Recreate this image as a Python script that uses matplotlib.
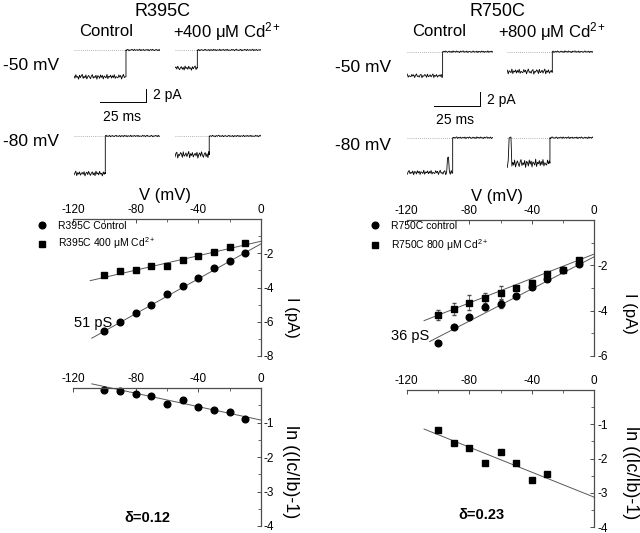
"""
Single-channel traces and I-V / block plots for R395C and R750C
"""
import numpy as np
import matplotlib
matplotlib.use("Agg")
import matplotlib.pyplot as plt

plt.rcParams['font.family'] = ['Liberation Sans', 'DejaVu Sans']
plt.rcParams['axes.unicode_minus'] = False
plt.rcParams['mathtext.fontset'] = 'custom'
plt.rcParams['mathtext.rm'] = 'Liberation Sans'
plt.rcParams['mathtext.it'] = 'Liberation Sans:italic'
plt.rcParams['mathtext.bf'] = 'Liberation Sans:bold'

W, H = 640, 533

# ---------- data ----------
voltages = [-100, -90, -80, -70, -60, -50, -40, -30, -20, -10]

# R395C I-V (pA)
r395_ctrl = [-6.53, -5.99, -5.48, -5.01, -4.37, -3.93, -3.42, -2.88, -2.45, -1.98]
r395_cd = [-3.27, -3.03, -2.99, -2.76, -2.72, -2.37, -2.18, -1.91, -1.63, -1.42]
r395_ctrl_fit_v = [-108, 0]
r395_ctrl_fit_i = [-6.96, -1.45]
r395_cd_fit_v = [-109, 0]
r395_cd_fit_i = [-3.60, -1.30]

# R750C I-V (pA)
r750_ctrl = [-5.41, -4.74, -4.29, -3.85, -3.70, -3.35, -2.96, -2.61, -2.22, -1.93]
r750_ctrl_err = [0.0, 0.0, 0.0, 0.0, 0.2, 0.0, 0.08, 0.0, 0.0, 0.05]
r750_cd = [-4.19, -3.93, -3.66, -3.45, -3.23, -3.01, -2.76, -2.39, -2.22, -1.78]
r750_cd_err = [0.24, 0.26, 0.33, 0.22, 0.30, 0.08, 0.12, 0.12, 0.06, 0.10]
r750_ctrl_fit_v = [-105.3, 0]
r750_ctrl_fit_i = [-5.36, -1.62]
r750_cd_fit_v = [-108.9, 0]
r750_cd_fit_i = [-4.44, -1.50]

# ln((Ic/Ib)-1)
r395_ln = [-0.07, -0.10, -0.18, -0.22, -0.47, -0.36, -0.55, -0.63, -0.70, -0.90]
r395_ln_fit_v = [-108, 0]
r395_ln_fit_y = [0.12, -0.93]
r750_ln_v = [-100, -90, -80, -70, -60, -50, -40, -30]
r750_ln = [-1.17, -1.54, -1.70, -2.14, -1.80, -2.13, -2.64, -2.46]
r750_ln_fit_v = [-108.9, 0]
r750_ln_fit_y = [-1.14, -3.13]

# single-channel traces: open level (pA) and closing time (ms)
trace_names = ['R395C -50 ctrl', 'R395C -50 Cd', 'R395C -80 ctrl', 'R395C -80 Cd',
               'R750C -50 ctrl', 'R750C -50 Cd', 'R750C -80 ctrl', 'R750C -80 Cd']
trace_open_pA = [-4.0, -2.7, -5.6, -2.8, -3.4, -2.8, -4.9, -3.6]
trace_close_ms = [28.4, 12.2, 17.1, 18.7, 19.3, 24.6, 24.8, 23.3]
trace_noise_open = [0.4, 0.35, 0.4, 0.55, 0.3, 0.4, 0.35, 0.65]
# hand-drawn noise pattern, one value per 0.5 ms sample
noise = [0.3, -0.5, 0.8, -0.2, 0.1, -0.9, 0.6, -0.3, 0.4, 0.9, -0.6, 0.2, -0.4,
         0.7, -0.8, 0.0, 0.5, -0.1, -0.7, 0.3, 0.8, -0.5, 0.1, -0.3, 0.6, -0.9,
         0.4, 0.2, -0.6, 0.7, -0.2, 0.5, -0.8, 0.3, 0.0, -0.4, 0.9, -0.7, 0.2,
         -0.1, 0.6, -0.5, 0.4, -0.3, 0.8, -0.6, 0.1, -0.2, -0.4, 0.7, -0.1, 0.5,
         -0.8, 0.2, 0.9, -0.3, 0.0, -0.6, 0.4, 0.7, -0.9, 0.1, -0.2, 0.6, 0.3,
         -0.7, 0.8, -0.4, -0.1, 0.5, -0.5, 0.2, 0.9, -0.8, 0.3, -0.2, 0.6, -0.6,
         0.0, 0.4, -0.3, 0.7, -0.9, 0.1, 0.5, -0.4, 0.8, -0.1, -0.7, 0.2, 0.6,
         -0.5, 0.3, -0.8, 0.9, -0.2]
# brief events (trace index, start ms, end ms, level pA)
trace_events = [(6, 22.0, 22.5, -2.8), (7, 1.0, 2.0, 0.0)]


def fx(px):
    return px / W


def fy(py):
    return 1 - py / H


def rect(x0, y0, x1, y1):
    return [fx(x0), fy(y1), fx(x1) - fx(x0), fy(y0) - fy(y1)]


fig = plt.figure(figsize=(6.4, 5.33), dpi=100)

# ---------- traces ----------
ms_px = 1.83
trace_pos = [  # left px, baseline px, px per pA
    (74, 50, 6.7), (175, 50, 6.7), (74, 136, 6.7), (175, 136, 6.7),
    (407.3, 51.7, 7.1), (507.3, 51.7, 7.1), (407.3, 137.7, 7.1), (507.3, 137.7, 7.1),
]
t = np.arange(0, 48, 0.5)
trace_axes = []
for k, (x0, base, s) in enumerate(trace_pos):
    top = base - 0.8 * s
    bot = base + 6.5 * s
    ax = fig.add_axes(rect(x0, top, x0 + 47 * ms_px, bot))
    ax.set_xlim(0, 47)
    ax.set_ylim(-6.5, 0.8)
    ax.axis('off')
    nz = np.roll(np.array(noise), k * 13)
    tc = trace_close_ms[k]
    lvl = np.where(t < tc, trace_open_pA[k], 0.0)
    amp = np.where(t < tc, trace_noise_open[k], 0.13)
    y = lvl + amp * nz
    for (idx, a, b, v) in trace_events:
        if idx == k:
            y = np.where((t >= a) & (t <= b), v + 0.1 * nz, y)
    t_full = np.concatenate([t[t < tc], [tc, tc], t[t > tc]])
    y_full = np.concatenate([y[t < tc], [trace_open_pA[k], 0.0], y[t > tc]])
    ax.axhline(0, color='0.6', lw=0.6, ls=(0, (1, 1.5)))
    ax.plot(t_full, y_full, color='black', lw=0.6)
    trace_axes.append(ax)

# scale bars
for ax, (bx, by, tx, ty, mx, my) in [
    (trace_axes[0], (14.2, -7.8, 43.2, -6.7, 15.8, -10.0)),
    (trace_axes[4], (14.6, -7.65, 43.4, -6.8, 15.5, -9.6)),
]:
    ax.plot([bx, bx + 25, bx + 25], [by, by, by + 2], color='black', lw=0.7,
            clip_on=False)
    ax.text(tx, ty, '2 pA', fontsize=10, ha='left', va='center')
    ax.text(mx, my, '25 ms', fontsize=10, ha='left', va='center')

# trace labels
fig.text(fx(163), fy(11), 'R395C', fontsize=13, ha='center', va='center')
fig.text(fx(497), fy(11), 'R750C', fontsize=13, ha='center', va='center')
fig.text(fx(106), fy(32), 'Control', fontsize=12, ha='center', va='center')
fig.text(fx(227), fy(32), r'+400 μM Cd$^{2+}$', fontsize=12, ha='center', va='center')
fig.text(fx(439), fy(32), 'Control', fontsize=12, ha='center', va='center')
fig.text(fx(552), fy(32), r'+800 μM Cd$^{2+}$', fontsize=12, ha='center', va='center')
fig.text(fx(3), fy(65), '-50 mV', fontsize=12.5, ha='left', va='center')
fig.text(fx(3), fy(142), '-80 mV', fontsize=12.5, ha='left', va='center')
fig.text(fx(335), fy(68), '-50 mV', fontsize=12.5, ha='left', va='center')
fig.text(fx(335), fy(146), '-80 mV', fontsize=12.5, ha='left', va='center')


# ---------- plot axes ----------
def style_axes(ax, ymin, ymaj, ymin_ticks):
    ax.set_xlim(-120, 0)
    ax.set_ylim(ymin, 0)
    for sp in ['left', 'bottom']:
        ax.spines[sp].set_visible(False)
    for sp in ['top', 'right']:
        ax.spines[sp].set_color('0.3')
        ax.spines[sp].set_linewidth(0.9)
    ax.xaxis.tick_top()
    ax.yaxis.tick_right()
    ax.set_xticks([-120, -80, -40, 0])
    ax.set_xticks([-100, -60, -20], minor=True)
    ax.set_yticks(ymaj)
    ax.set_yticks(ymin_ticks, minor=True)
    ax.tick_params(which='major', direction='in', length=3, width=0.7,
                   labelsize=8.5, pad=2, color='0.3')
    ax.tick_params(which='minor', direction='in', length=2, width=0.6, color='0.3')
    ax.patch.set_alpha(0)


mk = dict(color='black', linestyle='none', clip_on=False)
fit = dict(color='0.35', lw=0.7, clip_on=False)
circ = 4.8
sq = 4.4

# R395C I-V
ax1 = fig.add_axes(rect(73, 219, 261, 356))
style_axes(ax1, -8, [-2, -4, -6, -8], [-1, -3, -5, -7])
ax1.plot(r395_ctrl_fit_v, r395_ctrl_fit_i, **fit)
ax1.plot(r395_cd_fit_v, r395_cd_fit_i, **fit)
h1, = ax1.plot(voltages, r395_ctrl, marker='o', ms=circ, **mk)
h2, = ax1.plot(voltages, r395_cd, marker='s', ms=sq, **mk)
ax1.legend([h1, h2], ['R395C Control', r'R395C 400 μM Cd$^{2+}$'],
           loc='upper left', bbox_to_anchor=(fx(37), fy(221)),
           bbox_transform=fig.transFigure, frameon=False, fontsize=7.5,
           handlelength=1.0, handletextpad=1.0, labelspacing=0.45,
           borderpad=0, borderaxespad=0, numpoints=1)
ax1.text(-107, -6.1, '51 pS', fontsize=10.5, ha='center', va='center')

# R750C I-V
ax2 = fig.add_axes(rect(406.7, 220, 594.3, 356))
style_axes(ax2, -6, [-2, -4, -6], [-1, -3, -5])
ax2.plot(r750_ctrl_fit_v, r750_ctrl_fit_i, **fit)
ax2.plot(r750_cd_fit_v, r750_cd_fit_i, **fit)
ax2.errorbar(voltages, r750_cd, yerr=r750_cd_err, fmt='none', ecolor='0.3',
             elinewidth=0.6, capsize=1.5, clip_on=False)
ax2.errorbar(voltages, r750_ctrl, yerr=r750_ctrl_err, fmt='none', ecolor='0.3',
             elinewidth=0.6, capsize=1.5, clip_on=False)
h3, = ax2.plot(voltages, r750_ctrl, marker='o', ms=circ, **mk)
h4, = ax2.plot(voltages, r750_cd, marker='s', ms=sq, **mk)
ax2.legend([h3, h4], ['R750C control', r'R750C 800 μM Cd$^{2+}$'],
           loc='upper left', bbox_to_anchor=(fx(370), fy(221)),
           bbox_transform=fig.transFigure, frameon=False, fontsize=7.5,
           handlelength=1.0, handletextpad=1.0, labelspacing=0.6,
           borderpad=0, borderaxespad=0, numpoints=1)
ax2.text(-118, -5.1, '36 pS', fontsize=10.5, ha='center', va='center')

# ln plots
ax3 = fig.add_axes(rect(73, 388, 261, 526))
style_axes(ax3, -4, [-1, -2, -3, -4], [-0.5, -1.5, -2.5, -3.5])
ax3.plot(r395_ln_fit_v, r395_ln_fit_y, **fit)
ax3.plot(voltages, r395_ln, marker='o', ms=circ, **mk)

ax4 = fig.add_axes(rect(406.7, 390, 594.3, 527))
style_axes(ax4, -4, [-1, -2, -3, -4], [-0.5, -1.5, -2.5, -3.5])
ax4.plot(r750_ln_fit_v, r750_ln_fit_y, **fit)
ax4.plot(r750_ln_v, r750_ln, marker='s', ms=sq, **mk)

# axis titles
fig.text(fx(165), fy(196), 'V (mV)', fontsize=12, ha='center', va='center')
fig.text(fx(497), fy(197), 'V (mV)', fontsize=12, ha='center', va='center')
fig.text(fx(291), fy(317), 'I (pA)', fontsize=12, rotation=270, ha='center', va='center')
fig.text(fx(629), fy(313), 'I (pA)', fontsize=12, rotation=270, ha='center', va='center')
fig.text(fx(291), fy(472), 'ln ((Ic/Ib)-1)', fontsize=13, rotation=270,
         ha='center', va='center')
fig.text(fx(630), fy(473), 'ln ((Ic/Ib)-1)', fontsize=13, rotation=270,
         ha='center', va='center')
fig.text(fx(147), fy(518), 'δ=0.12', fontsize=10.5, fontweight='bold',
         ha='center', va='center')
fig.text(fx(481), fy(515), 'δ=0.23', fontsize=10.5, fontweight='bold',
         ha='center', va='center')

fig.savefig('out.png', dpi=100)
